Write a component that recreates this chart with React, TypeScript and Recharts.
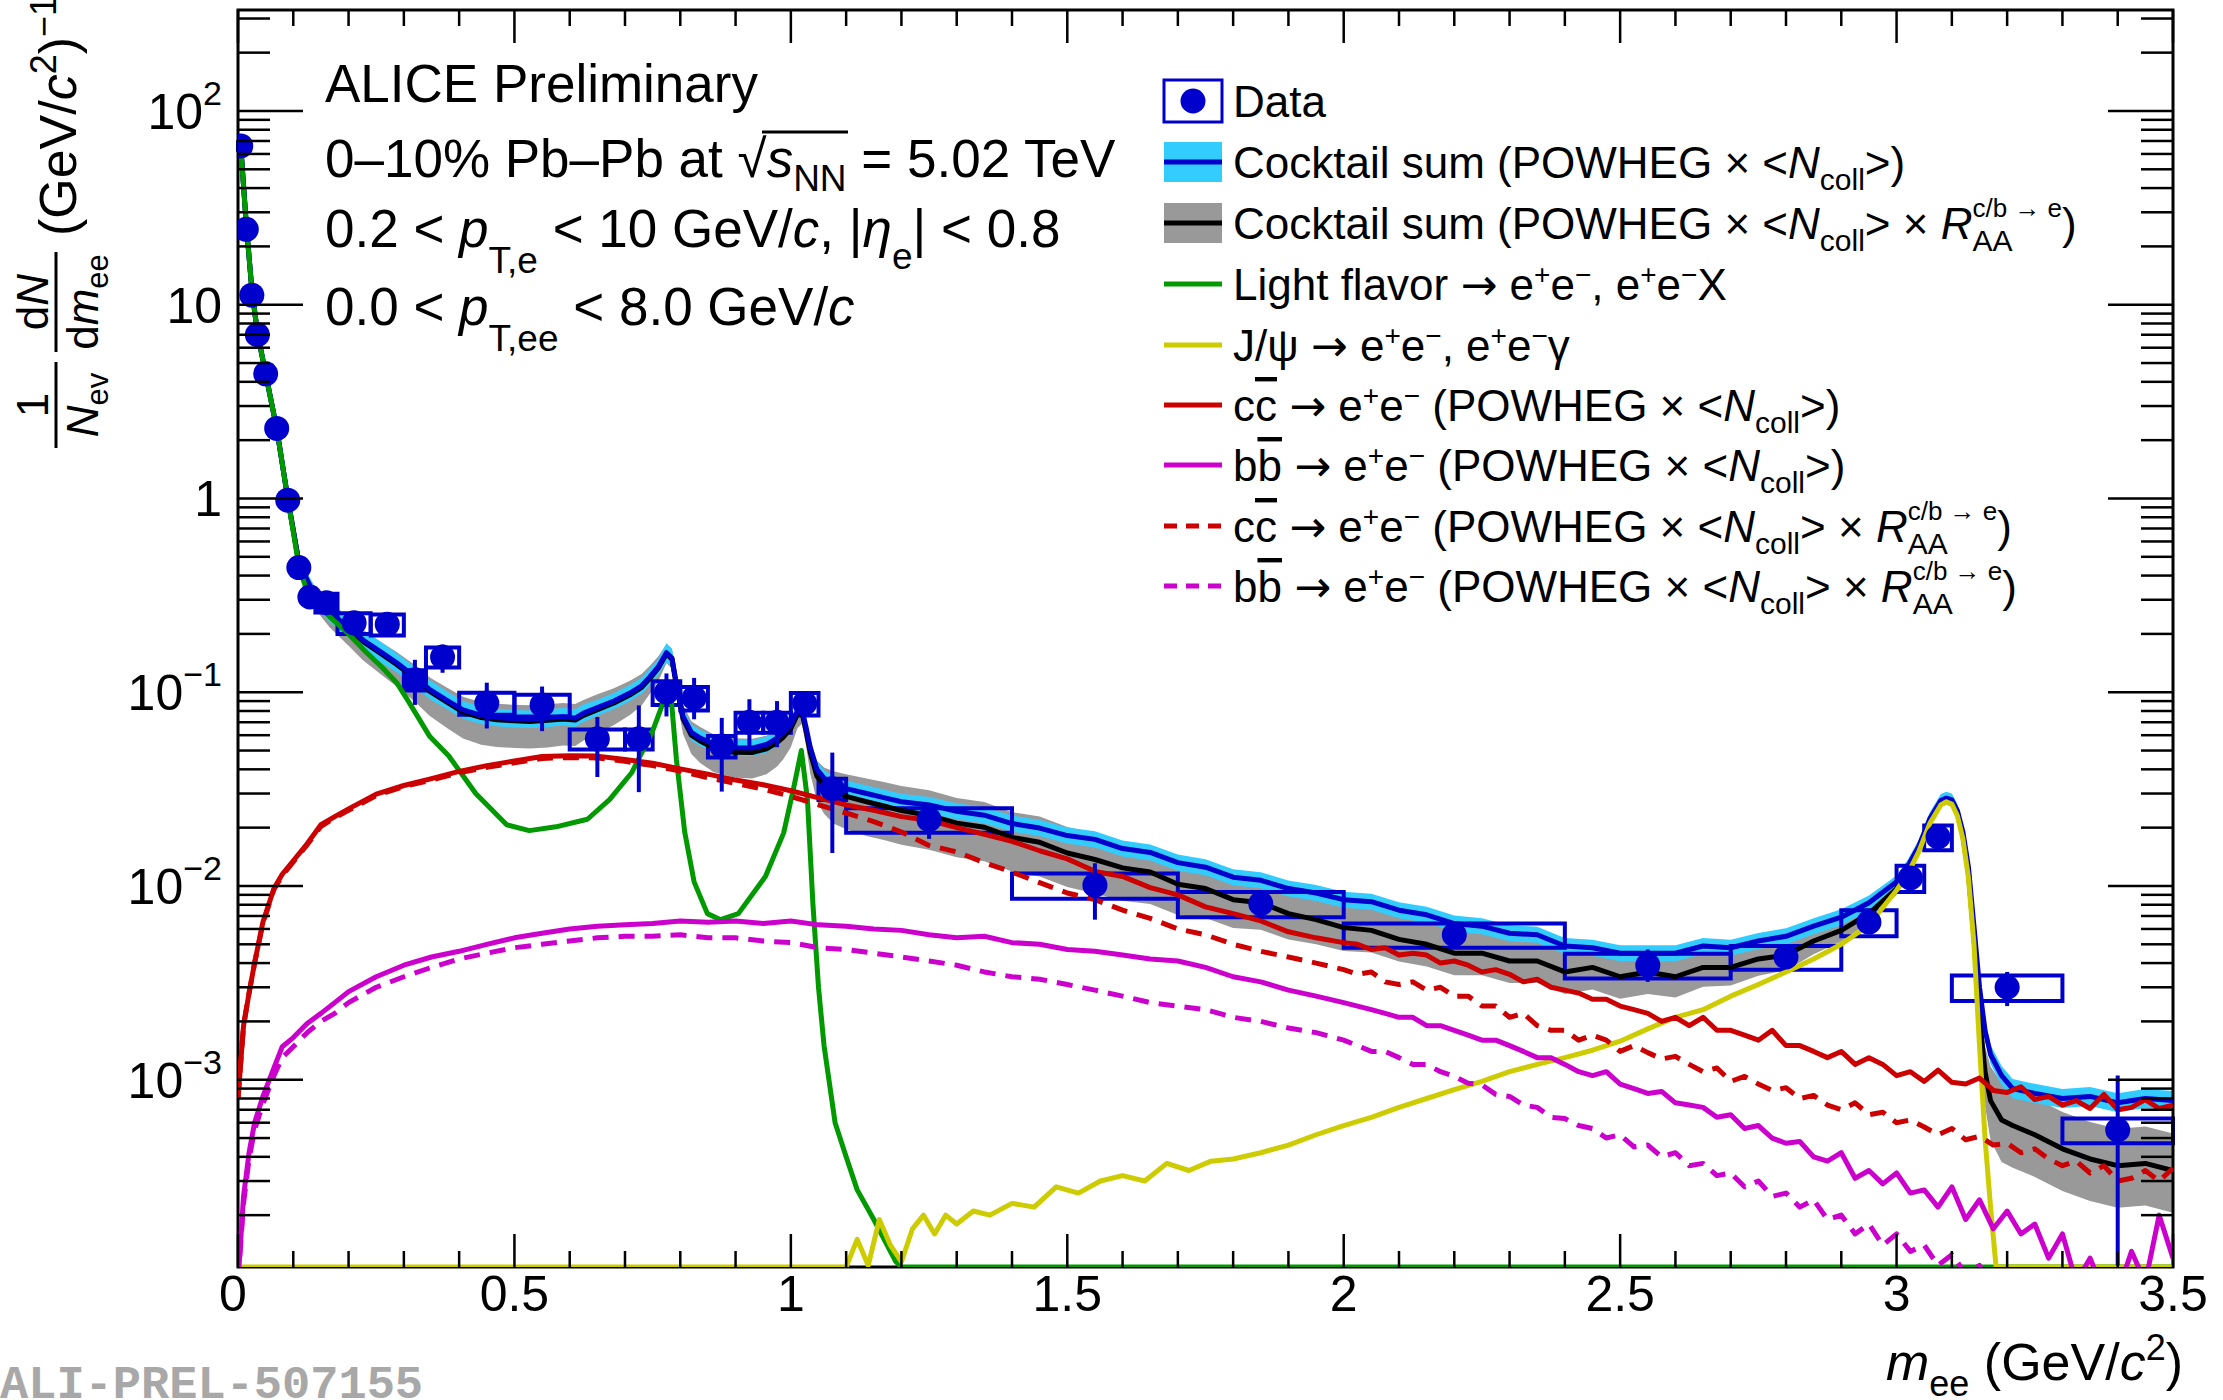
import React from "react";
import { ComposedChart, Line, Area, Scatter, ErrorBar, XAxis, YAxis, ReferenceArea } from "recharts";

const W = 2223;
const H = 1400;
const PLOT = { left: 238, top: 10, right: 2173, bottom: 1267 };
const YMIN = 1.08e-4;
const YMAX = 332;
const FONT = '"Liberation Sans", Arial, Helvetica, sans-serif';

const BLUE = "#0000cc";
const CYAN = "#33ccff";
const GRAY = "#999999";
const GREEN = "#009900";
const YELLOW = "#cccc00";
const RED = "#cc0000";
const MAGENTA = "#cc00cc";

// ---- axis tick labels
const xMajor = [0, 0.5, 1, 1.5, 2, 2.5, 3, 3.5];
const xMajorLabels = ["0", "0.5", "1", "1.5", "2", "2.5", "3", "3.5"];
const yMajor = [1e-3, 1e-2, 1e-1, 1, 10, 100];
const yMajorBase = ["10", "10", "10", "1", "10", "10"];
const yMajorExp = ["−3", "−2", "−1", "", "", "2"];

// ---- data (1/Nev dN/dm_ee)
const binLo = [0, 0.01, 0.02, 0.03, 0.04, 0.06, 0.08, 0.1, 0.12, 0.14,
  0.18, 0.24, 0.3, 0.34, 0.4, 0.5, 0.6, 0.7, 0.75, 0.8,
  0.85, 0.9, 0.95, 1.0, 1.05, 1.1, 1.4, 1.7, 2.0, 2.4,
  2.7, 2.9, 3.0, 3.05, 3.1, 3.3];
const binHi = [0.01, 0.02, 0.03, 0.04, 0.06, 0.08, 0.1, 0.12, 0.14, 0.18,
  0.24, 0.3, 0.34, 0.4, 0.5, 0.6, 0.7, 0.75, 0.8, 0.85,
  0.9, 0.95, 1.0, 1.05, 1.1, 1.4, 1.7, 2.0, 2.4, 2.7,
  2.9, 3.0, 3.05, 3.1, 3.3, 3.5];
const dataM = [0.005, 0.015, 0.025, 0.035, 0.05, 0.07, 0.09, 0.11, 0.13, 0.16,
  0.21, 0.27, 0.32, 0.37, 0.45, 0.55, 0.65, 0.725, 0.775, 0.825,
  0.875, 0.925, 0.975, 1.025, 1.075, 1.25, 1.55, 1.85, 2.2, 2.55,
  2.8, 2.95, 3.025, 3.075, 3.2, 3.4];
const dataY = [66, 24.5, 11.2, 7.0, 4.4, 2.3, 0.98, 0.44, 0.31, 0.29,
  0.228, 0.224, 0.116, 0.152, 0.088, 0.086, 0.0575, 0.0575, 0.1, 0.0935,
  0.0527, 0.07, 0.07, 0.0875, 0.0318, 0.022, 0.0101, 0.0081, 0.0056, 0.0039,
  0.0043, 0.0065, 0.011, 0.0179, 0.003, 0.00055];
const statLo = [1.5, 0.6, 0.3, 0.2, 0.12, 0.06, 0.03, 0.015, 0.01, 0.012,
  0.01, 0.01, 0.03, 0.026, 0.023, 0.023, 0.021, 0.027, 0.025, 0.021,
  0.022, 0.019, 0.018, 0.01, 0.017, 0.0045, 0.0034, 0.0013, 0.0008, 0.0007,
  0.0005, 0.0004, 0.0007, 0.001, 0.0006, 0.00044];
const statHi = [1.5, 0.6, 0.3, 0.2, 0.12, 0.06, 0.03, 0.015, 0.01, 0.012,
  0.01, 0.01, 0.031, 0.024, 0.024, 0.021, 0.017, 0.028, 0.025, 0.025,
  0.021, 0.022, 0.02, 0.007, 0.017, 0.004, 0.003, 0.0014, 0.0009, 0.0008,
  0.0004, 0.0004, 0.0007, 0.001, 0.0006, 0.0005];
const sysErr = [3, 1.1, 0.5, 0.32, 0.2, 0.1, 0.045, 0.02, 0.015, 0.032,
  0.028, 0.028, 0.014, 0.018, 0.0115, 0.011, 0.0068, 0.0068, 0.014, 0.013,
  0.0067, 0.0083, 0.0083, 0.0117, 0.004, 0.0032, 0.0015, 0.0012, 0.0008, 0.00057,
  0.0006, 0.001, 0.0017, 0.0026, 0.00045, 0.00008];

// ---- cocktail sums
const cocktailM = [0.005, 0.015, 0.025, 0.035, 0.05, 0.07, 0.09, 0.11, 0.125, 0.14,
  0.166, 0.2, 0.226, 0.26, 0.287, 0.32, 0.347, 0.38, 0.407, 0.44,
  0.468, 0.5, 0.528, 0.56, 0.588, 0.61, 0.625, 0.649, 0.68, 0.709,
  0.73, 0.745, 0.76, 0.775, 0.785, 0.793, 0.805, 0.82, 0.836, 0.86,
  0.896, 0.93, 0.956, 0.975, 0.986, 1.0, 1.012, 1.02, 1.028, 1.035,
  1.047, 1.06, 1.077, 1.1, 1.137, 1.17, 1.2, 1.25, 1.3, 1.35,
  1.4, 1.45, 1.5, 1.55, 1.6, 1.65, 1.7, 1.75, 1.8, 1.85,
  1.9, 1.95, 2.0, 2.05, 2.1, 2.15, 2.2, 2.25, 2.3, 2.35,
  2.4, 2.45, 2.5, 2.55, 2.6, 2.65, 2.7, 2.75, 2.8, 2.85,
  2.9, 2.95, 3.0, 3.02, 3.04, 3.06, 3.08, 3.09, 3.1, 3.11,
  3.12, 3.13, 3.14, 3.15, 3.16, 3.17, 3.19, 3.21, 3.25, 3.3,
  3.35, 3.4, 3.45, 3.5];
const cocktailY = [66, 26, 12, 7.2, 4.4, 2.3, 1.0, 0.47, 0.38, 0.31,
  0.26, 0.215, 0.186, 0.16, 0.142, 0.12, 0.103, 0.09, 0.081, 0.076,
  0.074, 0.073, 0.0725, 0.0735, 0.0747, 0.0735, 0.078, 0.083, 0.09, 0.099,
  0.108, 0.12, 0.135, 0.16, 0.15, 0.11, 0.075, 0.062, 0.058, 0.054,
  0.0517, 0.0515, 0.0537, 0.058, 0.0617, 0.068, 0.08, 0.082, 0.065, 0.052,
  0.04, 0.036, 0.0333, 0.0318, 0.03, 0.0285, 0.0272, 0.0262, 0.0243, 0.0232,
  0.0210, 0.0199, 0.0182, 0.0174, 0.0156, 0.0149, 0.0132, 0.0125, 0.0111, 0.0107,
  0.0097, 0.0092, 0.0085, 0.0083, 0.0075, 0.0071, 0.0064, 0.0062, 0.0057, 0.0056,
  0.0049, 0.0048, 0.0045, 0.0045, 0.0045, 0.0049, 0.0048, 0.0052, 0.0055, 0.0062,
  0.0069, 0.0082, 0.0105, 0.0126, 0.016, 0.0222, 0.0276, 0.0284, 0.0278, 0.0245,
  0.019, 0.0125, 0.0062, 0.003, 0.0018, 0.00135, 0.00105, 0.0009, 0.00085, 0.0008,
  0.00082, 0.00076, 0.0008, 0.00078];
const cocktailRaaY = [66, 26, 12, 7.2, 4.4, 2.3, 1.0, 0.47, 0.375, 0.305,
  0.255, 0.212, 0.183, 0.157, 0.139, 0.118, 0.101, 0.088, 0.079, 0.074,
  0.072, 0.0712, 0.0707, 0.0716, 0.0728, 0.0718, 0.076, 0.081, 0.088, 0.097,
  0.106, 0.118, 0.133, 0.158, 0.148, 0.108, 0.073, 0.06, 0.056, 0.0515,
  0.049, 0.0488, 0.051, 0.055, 0.0585, 0.065, 0.077, 0.079, 0.062, 0.049,
  0.037, 0.033, 0.0305, 0.029, 0.0272, 0.0258, 0.0245, 0.0231, 0.0211, 0.0201,
  0.0178, 0.0168, 0.0148, 0.0137, 0.0124, 0.0118, 0.0102, 0.0097, 0.0085, 0.0082,
  0.0072, 0.0067, 0.0061, 0.0059, 0.0053, 0.005, 0.0045, 0.0045, 0.0041, 0.0041,
  0.0036, 0.0038, 0.0034, 0.0036, 0.0034, 0.0038, 0.0038, 0.0042, 0.0044, 0.0052,
  0.0059, 0.0072, 0.0097, 0.0119, 0.0154, 0.0215, 0.0268, 0.0276, 0.027, 0.0238,
  0.0182, 0.0116, 0.0054, 0.0021, 0.0011, 0.00078, 0.00062, 0.00058, 0.00052, 0.00044,
  0.00039, 0.00036, 0.00037, 0.00034];
// band half-widths, as factors
const cyanF = [1.02, 1.02, 1.02, 1.02, 1.02, 1.03, 1.04, 1.06, 1.09, 1.12,
  1.13, 1.13, 1.13, 1.13, 1.12, 1.12, 1.12, 1.11, 1.11, 1.11,
  1.11, 1.11, 1.11, 1.11, 1.11, 1.11, 1.11, 1.1, 1.1, 1.1,
  1.1, 1.1, 1.1, 1.12, 1.12, 1.1, 1.1, 1.1, 1.1, 1.1,
  1.1, 1.1, 1.1, 1.1, 1.1, 1.1, 1.1, 1.1, 1.1, 1.1,
  1.1, 1.1, 1.1, 1.1, 1.1, 1.1, 1.1, 1.1, 1.1, 1.1,
  1.1, 1.1, 1.1, 1.1, 1.1, 1.1, 1.1, 1.1, 1.1, 1.1,
  1.1, 1.1, 1.1, 1.1, 1.1, 1.1, 1.1, 1.1, 1.1, 1.1,
  1.1, 1.1, 1.1, 1.1, 1.1, 1.1, 1.1, 1.1, 1.1, 1.1,
  1.1, 1.09, 1.08, 1.08, 1.08, 1.08, 1.08, 1.08, 1.08, 1.08,
  1.08, 1.08, 1.1, 1.12, 1.12, 1.12, 1.12, 1.12, 1.12, 1.12,
  1.12, 1.12, 1.12, 1.12];
const grayUp = [1.03, 1.03, 1.03, 1.03, 1.03, 1.03, 1.04, 1.06, 1.08, 1.1,
  1.12, 1.13, 1.14, 1.15, 1.16, 1.17, 1.18, 1.19, 1.2, 1.2,
  1.21, 1.21, 1.21, 1.21, 1.21, 1.21, 1.2, 1.2, 1.19, 1.18,
  1.17, 1.16, 1.15, 1.12, 1.12, 1.15, 1.18, 1.18, 1.18, 1.18,
  1.18, 1.18, 1.17, 1.16, 1.15, 1.13, 1.1, 1.1, 1.13, 1.16,
  1.2, 1.24, 1.28, 1.3, 1.32, 1.33, 1.34, 1.35, 1.35, 1.35,
  1.35, 1.36, 1.36, 1.37, 1.37, 1.37, 1.38, 1.38, 1.38, 1.38,
  1.38, 1.38, 1.38, 1.38, 1.38, 1.38, 1.38, 1.37, 1.36, 1.35,
  1.34, 1.33, 1.32, 1.31, 1.3, 1.28, 1.26, 1.23, 1.2, 1.17,
  1.13, 1.1, 1.08, 1.06, 1.05, 1.04, 1.04, 1.04, 1.04, 1.05,
  1.06, 1.08, 1.12, 1.2, 1.35, 1.5, 1.55, 1.55, 1.55, 1.55,
  1.55, 1.55, 1.55, 1.55];
const grayDn = [1.03, 1.03, 1.03, 1.03, 1.03, 1.03, 1.04, 1.06, 1.1, 1.14,
  1.18, 1.22, 1.25, 1.28, 1.3, 1.32, 1.34, 1.36, 1.37, 1.38,
  1.38, 1.38, 1.38, 1.38, 1.37, 1.36, 1.35, 1.33, 1.3, 1.27,
  1.24, 1.2, 1.17, 1.12, 1.12, 1.15, 1.2, 1.25, 1.3, 1.33,
  1.35, 1.36, 1.35, 1.33, 1.3, 1.25, 1.18, 1.15, 1.2, 1.28,
  1.35, 1.4, 1.45, 1.48, 1.5, 1.5, 1.5, 1.5, 1.5, 1.5,
  1.5, 1.5, 1.5, 1.5, 1.48, 1.46, 1.44, 1.42, 1.4, 1.38,
  1.36, 1.34, 1.32, 1.3, 1.3, 1.3, 1.3, 1.3, 1.3, 1.3,
  1.3, 1.3, 1.3, 1.3, 1.28, 1.26, 1.24, 1.22, 1.2, 1.17,
  1.14, 1.1, 1.08, 1.07, 1.06, 1.05, 1.05, 1.05, 1.05, 1.06,
  1.08, 1.1, 1.15, 1.3, 1.5, 1.6, 1.65, 1.65, 1.65, 1.65,
  1.65, 1.65, 1.65, 1.65];

// ---- light flavour
const lfM = [0.004, 0.015, 0.025, 0.035, 0.05, 0.07, 0.09, 0.11, 0.125, 0.14,
  0.166, 0.2, 0.228, 0.26, 0.287, 0.308, 0.347, 0.381, 0.43, 0.486,
  0.527, 0.575, 0.632, 0.672, 0.712, 0.749, 0.77, 0.782, 0.793, 0.808,
  0.825, 0.849, 0.873, 0.905, 0.954, 0.987, 1.005, 1.019, 1.03, 1.04,
  1.05, 1.06, 1.08, 1.1, 1.12, 1.15, 1.19, 1.2, 3.5];
const lfY = [70, 26, 12, 7.2, 4.4, 2.3, 1.0, 0.45, 0.33, 0.29,
  0.245, 0.2, 0.165, 0.135, 0.112, 0.09, 0.059, 0.047, 0.03, 0.0207,
  0.0193, 0.0202, 0.0221, 0.0279, 0.0384, 0.062, 0.09, 0.105, 0.045, 0.019,
  0.0105, 0.0072, 0.0067, 0.0072, 0.0112, 0.0188, 0.032, 0.05, 0.028, 0.008,
  0.003, 0.0015, 0.0006, 0.0004, 0.00027, 0.00019, 0.000115, YMIN, YMIN];

// ---- J/psi
const jpsiM = [0, 1.1, 1.12, 1.14, 1.16, 1.18, 1.2, 1.22, 1.24, 1.26,
  1.28, 1.3, 1.33, 1.36, 1.4, 1.44, 1.48, 1.52, 1.56, 1.6,
  1.64, 1.68, 1.72, 1.76, 1.8, 1.85, 1.9, 1.95, 2.0, 2.05,
  2.1, 2.15, 2.2, 2.25, 2.3, 2.35, 2.4, 2.45, 2.5, 2.55,
  2.6, 2.65, 2.7, 2.75, 2.8, 2.85, 2.9, 2.95, 3.0, 3.02,
  3.04, 3.06, 3.08, 3.09, 3.1, 3.11, 3.12, 3.13, 3.14, 3.15,
  3.16, 3.17, 3.18, 3.5];
const jpsiY = [YMIN, YMIN, 1.5e-4, 1.1e-4, 1.9e-4, 1.4e-4, 1.15e-4, 1.7e-4, 2.0e-4, 1.6e-4,
  2.0e-4, 1.8e-4, 2.1e-4, 2.0e-4, 2.3e-4, 2.2e-4, 2.8e-4, 2.6e-4, 3.0e-4, 3.2e-4,
  3.0e-4, 3.7e-4, 3.4e-4, 3.8e-4, 3.9e-4, 4.2e-4, 4.6e-4, 5.2e-4, 5.8e-4, 6.4e-4,
  7.2e-4, 8.0e-4, 8.9e-4, 9.8e-4, 1.1e-3, 1.2e-3, 1.3e-3, 1.42e-3, 1.58e-3, 1.83e-3,
  2.1e-3, 2.3e-3, 2.7e-3, 3.1e-3, 3.6e-3, 4.2e-3, 5.0e-3, 6.3e-3, 9.5e-3, 1.15e-2,
  1.5e-2, 2.1e-2, 2.62e-2, 2.72e-2, 2.65e-2, 2.3e-2, 1.75e-2, 1.1e-2, 5e-3, 1.5e-3,
  5e-4, 2.2e-4, YMIN, YMIN];

// ---- heavy flavour (POWHEG), finer sampling above 2 GeV to keep the MC noise
const hfM = [0, 0.01, 0.02, 0.03, 0.045, 0.065, 0.08, 0.1, 0.125, 0.15,
  0.175, 0.2, 0.25, 0.3, 0.35, 0.4, 0.45, 0.5, 0.55, 0.6,
  0.65, 0.7, 0.75, 0.8, 0.85, 0.9, 0.95, 1.0, 1.05, 1.1,
  1.15, 1.2, 1.25, 1.3, 1.35, 1.4, 1.45, 1.5, 1.55, 1.6,
  1.65, 1.7, 1.75, 1.8, 1.85, 1.9, 1.95,
  2.0, 2.025, 2.05, 2.075, 2.1, 2.125, 2.15, 2.175, 2.2, 2.225,
  2.25, 2.275, 2.3, 2.325, 2.35, 2.375, 2.4, 2.425, 2.45, 2.475,
  2.5, 2.525, 2.55, 2.575, 2.6, 2.625, 2.65, 2.675, 2.7, 2.725,
  2.75, 2.775, 2.8, 2.825, 2.85, 2.875, 2.9, 2.925, 2.95, 2.975,
  3.0, 3.025, 3.05, 3.075, 3.1, 3.125, 3.15, 3.175, 3.2, 3.225,
  3.25, 3.275, 3.3, 3.325, 3.35, 3.375, 3.4, 3.425, 3.45, 3.475, 3.5];
const ccY = [8e-4, 0.0019, 0.0028, 0.004, 0.0065, 0.0097, 0.0115, 0.0135, 0.0165, 0.0207,
  0.0228, 0.025, 0.0298, 0.033, 0.0358, 0.039, 0.0418, 0.0442, 0.0466, 0.047,
  0.0468, 0.045, 0.043, 0.0402, 0.0378, 0.0352, 0.0333, 0.031, 0.0285, 0.0262,
  0.0246, 0.0228, 0.0218, 0.02, 0.0185, 0.017, 0.0152, 0.0138, 0.0119, 0.0112,
  0.0098, 0.009, 0.0078, 0.0072, 0.0066, 0.0058, 0.0054,
  0.0051, 0.005, 0.0047, 0.0048, 0.0044, 0.0045, 0.0044, 0.004, 0.0041, 0.0039,
  0.0036, 0.0037, 0.0035, 0.0032, 0.0033, 0.003, 0.0029, 0.0028, 0.0026, 0.0026,
  0.0024, 0.0023, 0.0022, 0.002, 0.0021, 0.0019, 0.0021, 0.0018, 0.0018, 0.0017,
  0.0016, 0.0018, 0.0015, 0.0015, 0.0014, 0.0013, 0.0014, 0.0012, 0.0013, 0.0012,
  0.00105, 0.0011, 0.00098, 0.00112, 0.00097, 0.00095, 0.00102, 0.00088, 0.00086, 0.00092,
  0.00079, 0.00082, 0.00074, 0.00078, 0.00071, 0.00084, 0.0007, 0.00072, 0.00079, 0.00071, 0.00074];
const ccRaaY = [8e-4, 0.0019, 0.0028, 0.004, 0.0064, 0.0096, 0.0113, 0.0133, 0.0163, 0.0203,
  0.0225, 0.0246, 0.0293, 0.0326, 0.0352, 0.0384, 0.041, 0.0432, 0.0455, 0.046,
  0.0458, 0.044, 0.0418, 0.0392, 0.0362, 0.0338, 0.0316, 0.029, 0.0262, 0.0238,
  0.0215, 0.019, 0.0162, 0.015, 0.0132, 0.0118, 0.0104, 0.0092, 0.0085, 0.0075,
  0.0068, 0.006, 0.0056, 0.005, 0.0046, 0.0043, 0.004,
  0.0037, 0.0035, 0.0036, 0.0032, 0.0031, 0.0032, 0.0029, 0.003, 0.0027, 0.0027,
  0.0024, 0.0024, 0.0021, 0.0022, 0.0019, 0.0018, 0.0018, 0.0016, 0.0017, 0.0016,
  0.0014, 0.0015, 0.00138, 0.00128, 0.00132, 0.0012, 0.0011, 0.00115, 0.00098, 0.00104,
  0.00095, 0.00088, 0.00091, 0.0008, 0.00083, 0.00074, 0.0007, 0.00076, 0.00066, 0.00068,
  0.0006, 0.00062, 0.00057, 0.00052, 0.00056, 0.00049, 0.00051, 0.00046, 0.00047, 0.00042,
  0.00044, 0.00039, 0.00036, 0.00038, 0.00033, 0.00036, 0.0003, 0.00031, 0.00034, 0.0003, 0.00035];
const bbY = [9e-5, 2.5e-4, 4.2e-4, 6e-4, 8.2e-4, 0.00115, 0.00148, 0.00165, 0.00195, 0.0022,
  0.0025, 0.00285, 0.0034, 0.0039, 0.0043, 0.0046, 0.005, 0.0054, 0.0057, 0.006,
  0.0062, 0.0063, 0.0064, 0.0066, 0.0065, 0.0066, 0.0064, 0.0066, 0.0063, 0.0062,
  0.006, 0.0059, 0.0056, 0.0054, 0.0055, 0.0051, 0.005, 0.0047, 0.0046, 0.0044,
  0.0042, 0.0041, 0.0038, 0.0034, 0.0032, 0.0029, 0.0027,
  0.0025, 0.0024, 0.0023, 0.0022, 0.0021, 0.0021, 0.0019, 0.0019, 0.0018, 0.0017,
  0.0016, 0.0016, 0.0015, 0.0014, 0.0013, 0.0013, 0.0012, 0.0011, 0.00105, 0.0011,
  0.00095, 0.0009, 0.00085, 0.00087, 0.00076, 0.00074, 0.00072, 0.00064, 0.00066, 0.00056,
  0.00058, 0.0005, 0.00047, 0.00048, 0.0004, 0.00038, 0.00042, 0.00031, 0.00034, 0.00029,
  0.00033, 0.00026, 0.00027, 0.00022, 0.00028, 0.00019, 0.00024, 0.00017, 0.00021, 0.00016,
  0.00018, 0.00012, 0.00016, 0.00009, 0.00012, 0.00008, 0.00008, 0.00013, 0.00009, 0.0002, 0.00012];
const bbRaaY = [9e-5, 2.3e-4, 3.9e-4, 5.5e-4, 7.5e-4, 0.00105, 0.0013, 0.00148, 0.00175, 0.002,
  0.0022, 0.0025, 0.003, 0.0034, 0.0038, 0.0042, 0.0045, 0.0048, 0.005, 0.0052,
  0.0054, 0.0055, 0.0055, 0.0056, 0.0054, 0.0054, 0.0052, 0.0051, 0.0048, 0.0047,
  0.0045, 0.0043, 0.0041, 0.0039, 0.0036, 0.0034, 0.0033, 0.0031, 0.0029, 0.0027,
  0.0025, 0.0024, 0.0023, 0.0021, 0.002, 0.00185, 0.00175,
  0.0016, 0.0015, 0.0014, 0.0014, 0.0013, 0.0012, 0.0012, 0.0011, 0.00104, 0.00096,
  0.00094, 0.00084, 0.00082, 0.00074, 0.00072, 0.00064, 0.00063, 0.00058, 0.00056, 0.0005,
  0.00052, 0.00045, 0.00046, 0.0004, 0.00042, 0.00036, 0.00037, 0.00032, 0.00033, 0.00028,
  0.0003, 0.00025, 0.00026, 0.00022, 0.00024, 0.00019, 0.0002, 0.00016, 0.00018, 0.00014,
  0.00016, 0.00013, 0.00014, 0.00011, 0.000125, 0.0001, 0.00011, 0.00008, 0.0001, 0.00007,
  0.00007, 0.00007, 0.00007, 0.00007, 0.00007, 0.00007, 0.00007, 0.00007, 0.00007, 0.00007, 0.00007];

// ---- built tables
const pts = (ms: number[], ys: number[]) => ms.map((m, i) => ({ m, y: ys[i] }));
const sumLine = pts(cocktailM, cocktailY);
const sumRaaLine = pts(cocktailM, cocktailRaaY);
const cyanBand = cocktailM.map((m, i) => ({ m, band: [cocktailY[i] / cyanF[i], cocktailY[i] * cyanF[i]] }));
const grayBand = cocktailM.map((m, i) => ({ m, band: [cocktailRaaY[i] / grayDn[i], cocktailRaaY[i] * grayUp[i]] }));
const lfLine = pts(lfM, lfY);
const jpsiLine = pts(jpsiM, jpsiY);
const ccLine = pts(hfM, ccY);
const ccRaaLine = pts(hfM, ccRaaY);
const bbLine = pts(hfM, bbY);
const bbRaaLine = pts(hfM, bbRaaY);
const points = dataM.map((m, i) => ({ m, y: dataY[i], err: [statLo[i], statHi[i]] }));

const xTicks: number[] = [];
for (let i = 0; i <= 35; i++) xTicks.push(i / 10);
const yTicks: number[] = [];
for (let e = -4; e <= 2; e++) {
  for (let k = 1; k <= 9; k++) {
    const v = k * Math.pow(10, e);
    if (v >= YMIN && v <= YMAX) yTicks.push(v);
  }
}

function XTick(props: any) {
  const { x, payload } = props;
  const v = payload.value as number;
  const idx = xMajor.findIndex((t) => Math.abs(t - v) < 1e-6);
  const len = idx >= 0 ? 33 : 16;
  return (
    <g>
      <line x1={x} x2={x} y1={PLOT.bottom} y2={PLOT.bottom - len} stroke="#000" strokeWidth={2.5} />
      <line x1={x} x2={x} y1={PLOT.top} y2={PLOT.top + len} stroke="#000" strokeWidth={2.5} />
      {idx >= 0 && (
        <text x={x - (idx === 0 ? 5 : 0)} y={1311} textAnchor="middle" fontSize={50} fill="#000">{xMajorLabels[idx]}</text>
      )}
    </g>
  );
}

function YTick(props: any) {
  const { y, payload } = props;
  const v = payload.value as number;
  const idx = yMajor.findIndex((t) => Math.abs(t - v) / t < 1e-6);
  const len = idx >= 0 ? 65 : 32;
  return (
    <g>
      <line x1={PLOT.left} x2={PLOT.left + len} y1={y} y2={y} stroke="#000" strokeWidth={2.5} />
      <line x1={PLOT.right} x2={PLOT.right - len} y1={y} y2={y} stroke="#000" strokeWidth={2.5} />
      {idx >= 0 && (
        <text x={PLOT.left - 16} y={y + 18} textAnchor="end" fontSize={50} fill="#000">
          {yMajorBase[idx]}
          {yMajorExp[idx] && <tspan dy={-24} fontSize={34}>{yMajorExp[idx]}</tspan>}
        </text>
      )}
    </g>
  );
}

const Marker = (p: any) => <circle cx={p.cx} cy={p.cy} r={12.5} fill={BLUE} />;

// small text helpers (baseline-shift keeps the following text on its baseline)
const Sup = ({ t, s, fs }: { t: string; s: number; fs: number }) => (
  <tspan baselineShift={s} fontSize={fs}>{t}</tspan>
);
const Sub = ({ t, s, fs }: { t: string; s: number; fs: number }) => (
  <tspan baselineShift={-s} fontSize={fs}>{t}</tspan>
);
const Arrow = () => <tspan fontFamily='"DejaVu Sans", sans-serif'>→</tspan>;
const EE = () => (
  <>
    e<Sup t="+" s={16} fs={28} />e<Sup t="−" s={16} fs={28} />
  </>
);
const Ncoll = () => (
  <>
    {"<"}<tspan fontStyle="italic">N</tspan><Sub t="coll" s={12} fs={30} />{">"}
  </>
);
const Raa = () => (
  <>
    <tspan fontStyle="italic">R</tspan>
    <tspan dy={12} fontSize={30}>AA</tspan>
    <tspan dx={-40} dy={-34} fontSize={26}>c/b → e</tspan>
    <tspan dy={22}>{")"}</tspan>
  </>
);
const Bar = ({ t }: { t: string }) => <tspan style={{ textDecoration: "overline" }}>{t}</tspan>;

const LEG_X = 1164;
const LEG_W = 58;
const LEG_TX = 1233;
const legRows = [101, 162, 223, 284, 345, 405, 465, 526, 586];

function LegendBlock() {
  const r = legRows;
  const seg = (yy: number, color: string, dash?: string) => (
    <line x1={LEG_X} x2={LEG_X + LEG_W} y1={yy} y2={yy} stroke={color} strokeWidth={5} strokeDasharray={dash} />
  );
  return (
    <g fontSize={44}>
      <rect x={LEG_X} y={r[0] - 21} width={LEG_W} height={42} fill="none" stroke={BLUE} strokeWidth={3} />
      <circle cx={LEG_X + LEG_W / 2} cy={r[0]} r={12.5} fill={BLUE} />
      <rect x={LEG_X} y={r[1] - 20} width={LEG_W} height={40} fill={CYAN} />
      {seg(r[1], BLUE)}
      <rect x={LEG_X} y={r[2] - 20} width={LEG_W} height={40} fill={GRAY} />
      {seg(r[2], "#000")}
      {seg(r[3], GREEN)}
      {seg(r[4], YELLOW)}
      {seg(r[5], RED)}
      {seg(r[6], MAGENTA)}
      {seg(r[7], RED, "13 9")}
      {seg(r[8], MAGENTA, "13 9")}

      <text x={LEG_TX} y={r[0] + 16}>Data</text>
      <text x={LEG_TX} y={r[1] + 16}>Cocktail sum (POWHEG × <Ncoll />)</text>
      <text x={LEG_TX} y={r[2] + 16}>Cocktail sum (POWHEG × <Ncoll /> × <Raa /></text>
      <text x={LEG_TX} y={r[3] + 16}>Light flavor <Arrow /> <EE />, <EE />X</text>
      <text x={LEG_TX} y={r[4] + 16}>J/ψ <Arrow /> <EE />, <EE />γ</text>
      <text x={LEG_TX} y={r[5] + 16}>c<Bar t="c" /> <Arrow /> <EE /> (POWHEG × <Ncoll />)</text>
      <text x={LEG_TX} y={r[6] + 16}>b<Bar t="b" /> <Arrow /> <EE /> (POWHEG × <Ncoll />)</text>
      <text x={LEG_TX} y={r[7] + 16}>c<Bar t="c" /> <Arrow /> <EE /> (POWHEG × <Ncoll /> × <Raa /></text>
      <text x={LEG_TX} y={r[8] + 16}>b<Bar t="b" /> <Arrow /> <EE /> (POWHEG × <Ncoll /> × <Raa /></text>
    </g>
  );
}

function Overlay() {
  return (
    <svg width={W} height={H} fontFamily={FONT} style={{ position: "absolute", left: 0, top: 0, pointerEvents: "none" }}>
      {/* y-axis title */}
      <g fontSize={44} fill="#000">
        <text transform="translate(48,405) rotate(-90)" textAnchor="middle">1</text>
        <line x1={56} x2={56} y1={362} y2={448} stroke="#000" strokeWidth={3} />
        <text transform="translate(98,405) rotate(-90)" textAnchor="middle">
          <tspan fontStyle="italic">N</tspan><Sub t="ev" s={10} fs={31} />
        </text>
        <text transform="translate(48,302) rotate(-90)" textAnchor="middle">
          d<tspan fontStyle="italic">N</tspan>
        </text>
        <line x1={56} x2={56} y1={252} y2={352} stroke="#000" strokeWidth={3} />
        <text transform="translate(98,302) rotate(-90)" textAnchor="middle">
          d<tspan fontStyle="italic">m</tspan><Sub t="ee" s={10} fs={31} />
        </text>
        <text transform="translate(76,116) rotate(-90)" textAnchor="middle" fontSize={52}>
          (GeV/<tspan fontStyle="italic">c</tspan><Sup t="2" s={20} fs={36} />)<Sup t="−1" s={20} fs={36} />
        </text>
      </g>

      {/* info block */}
      <g fontSize={53} fill="#000">
        <text x={325} y={102}>ALICE Preliminary</text>
        <text x={325} y={177}>
          0–10% Pb–Pb at √<tspan fontStyle="italic">s</tspan><Sub t="NN" s={14} fs={37} /> = 5.02 TeV
        </text>
        <line x1={762} x2={848} y1={132} y2={132} stroke="#000" strokeWidth={3} />
        <text x={325} y={247}>
          0.2 {"<"} <tspan fontStyle="italic">p</tspan><Sub t="T,e" s={26} fs={37} /> {"<"} 10 GeV/<tspan fontStyle="italic">c</tspan>, |<tspan fontStyle="italic">η</tspan><Sub t="e" s={22} fs={37} />| {"<"} 0.8
        </text>
        <text x={325} y={325}>
          0.0 {"<"} <tspan fontStyle="italic">p</tspan><Sub t="T,ee" s={26} fs={37} /> {"<"} 8.0 GeV/<tspan fontStyle="italic">c</tspan>
        </text>
      </g>

      <LegendBlock />

      {/* x-axis title */}
      <text x={2183} y={1380} textAnchor="end" fontSize={52}>
        <tspan fontStyle="italic">m</tspan><Sub t="ee" s={16} fs={36} /> (GeV/<tspan fontStyle="italic">c</tspan><Sup t="2" s={20} fs={36} />)
      </text>

      <text x={0} y={1398} fontFamily='"Liberation Mono", "DejaVu Sans Mono", monospace' fontWeight="bold" fontSize={47} fill="#a8a8a8">
        ALI-PREL-507155
      </text>
    </svg>
  );
}

export default function App() {
  const lineProps = { type: "linear" as const, dot: false, activeDot: false, isAnimationActive: false, strokeWidth: 5, strokeLinejoin: "round" as const };
  return (
    <div style={{ position: "absolute", left: 0, top: 0, width: W, height: H, background: "#fff", fontFamily: FONT }}>
      <ComposedChart width={W} height={H} margin={{ top: 10, right: 50, bottom: 0, left: 0 }}>
        <XAxis type="number" dataKey="m" domain={[0, 3.5]} allowDataOverflow ticks={xTicks} interval={0}
          height={133} axisLine={false} tickLine={false} tick={(p: any) => <XTick {...p} />} />
        <YAxis type="number" scale="log" domain={[YMIN, YMAX]} allowDataOverflow ticks={yTicks} interval={0}
          width={238} axisLine={false} tickLine={false} tick={(p: any) => <YTick {...p} />} />

        <Area data={grayBand} dataKey="band" type="linear" stroke="none" fill={GRAY} fillOpacity={1} isAnimationActive={false} />
        <Area data={cyanBand} dataKey="band" type="linear" stroke="none" fill={CYAN} fillOpacity={1} isAnimationActive={false} />
        <Line {...lineProps} data={sumRaaLine} dataKey="y" stroke="#000" />
        <Line {...lineProps} data={sumLine} dataKey="y" stroke={BLUE} />
        <Line {...lineProps} data={lfLine} dataKey="y" stroke={GREEN} />
        <Line {...lineProps} data={jpsiLine} dataKey="y" stroke={YELLOW} />
        <Line {...lineProps} data={ccLine} dataKey="y" stroke={RED} />
        <Line {...lineProps} data={bbLine} dataKey="y" stroke={MAGENTA} />
        <Line {...lineProps} data={ccRaaLine} dataKey="y" stroke={RED} strokeDasharray="16 10" />
        <Line {...lineProps} data={bbRaaLine} dataKey="y" stroke={MAGENTA} strokeDasharray="16 10" />

        {dataM.map((m, i) => (
          <ReferenceArea key={`sys${i}`} x1={binLo[i]} x2={binHi[i]} y1={dataY[i] - sysErr[i]} y2={dataY[i] + sysErr[i]}
            fill="none" stroke={BLUE} strokeWidth={4} ifOverflow="visible" />
        ))}
        <Scatter data={points} dataKey="y" shape={Marker} isAnimationActive={false}>
          <ErrorBar dataKey="err" direction="y" width={0} stroke={BLUE} strokeWidth={4} />
        </Scatter>

        <ReferenceArea x1={0} x2={3.5} y1={YMIN} y2={YMAX} fill="none" stroke="#000" strokeWidth={3} ifOverflow="visible" />
      </ComposedChart>
      <Overlay />
    </div>
  );
}
